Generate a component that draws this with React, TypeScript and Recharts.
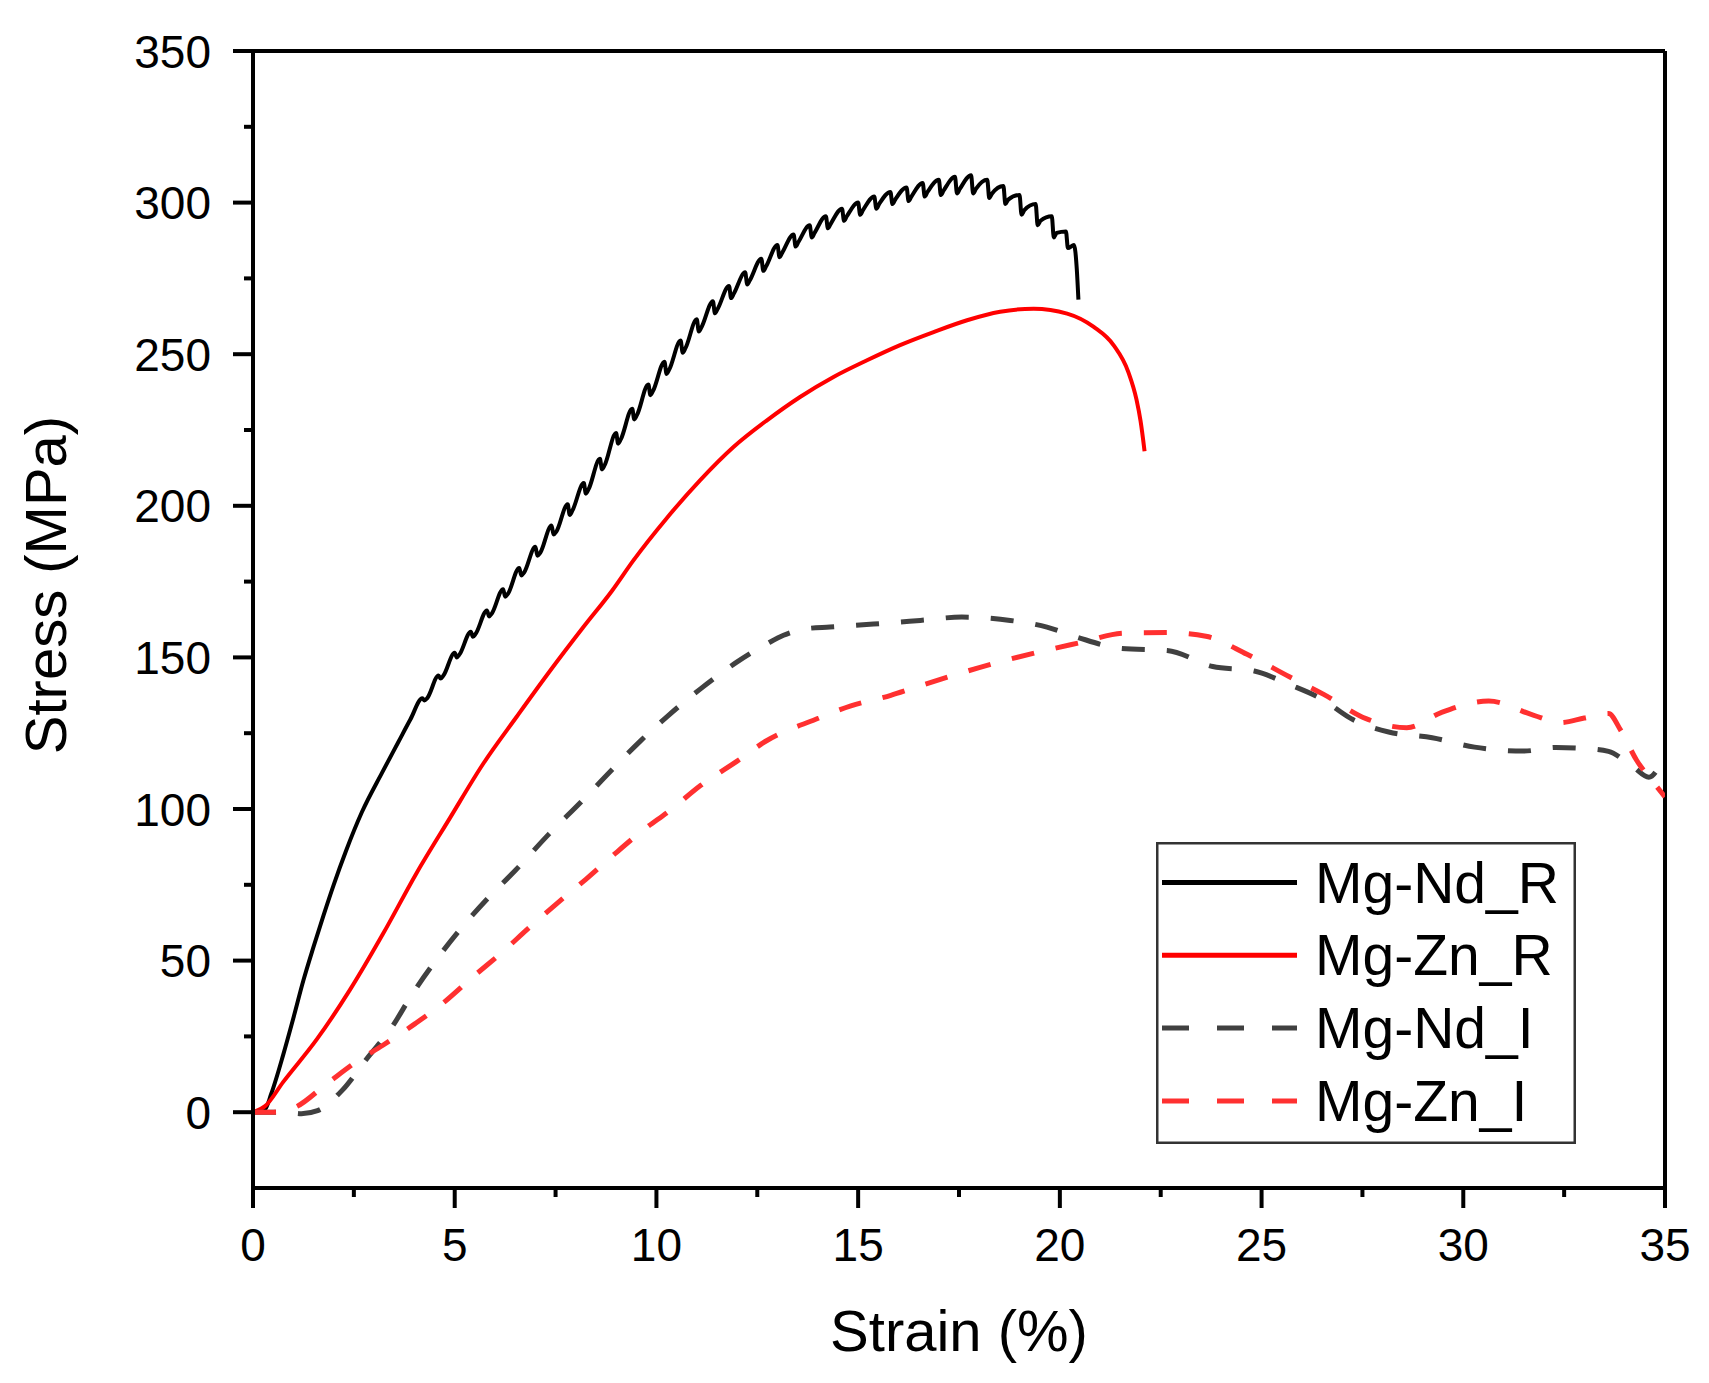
import { Label, Legend, Line, LineChart, ReferenceLine, XAxis, YAxis } from "recharts"

const FONT = "'Liberation Sans', Arial, Helvetica, sans-serif"

// axis ticks (majors get a label, minors only a short tick)
const xTicks = [0, 2.5, 5, 7.5, 10, 12.5, 15, 17.5, 20, 22.5, 25, 27.5, 30, 32.5, 35]
const yTicks = [0, 25, 50, 75, 100, 125, 150, 175, 200, 225, 250, 275, 300, 325, 350]

// [strain %, stress MPa]
const mgNdR: [number, number][] = [
  [0, 0], [0.3, 1], [0.45, 6], [0.75, 19], [1.0, 31], [1.25, 43.5], [1.5, 54.5], [1.75, 65],
  [2.0, 75], [2.3, 86], [2.7, 99], [3.2, 112], [3.6, 122], [3.9, 129.5],
  [4.2, 136.5], [4.25, 135.8], [4.32, 136.6], [4.6, 144], [4.65, 143], [4.72, 144],
  [5.0, 151.5], [5.05, 150], [5.12, 151], [5.4, 158.5], [5.45, 156.8], [5.52, 157.8],
  [5.8, 165.5], [5.85, 163.5], [5.92, 164.5], [6.2, 172.5], [6.25, 170], [6.32, 171],
  [6.6, 179.5], [6.65, 177], [6.72, 178], [7.0, 186.5], [7.05, 183.5], [7.12, 184.5],
  [7.4, 193.5], [7.45, 190.5], [7.52, 191.5], [7.8, 200.5], [7.85, 197], [7.92, 198.5],
  [8.2, 207.5], [8.25, 204], [8.32, 205.5], [8.6, 215.5], [8.65, 212], [8.72, 213.5],
  [9.0, 224], [9.05, 220.5], [9.12, 222], [9.4, 232], [9.45, 228.5], [9.52, 230],
  [9.8, 240], [9.85, 236.5], [9.92, 238], [10.2, 247.5], [10.25, 243.5], [10.32, 245],
  [10.6, 254.5], [10.65, 250.5], [10.72, 252], [11.0, 261.5], [11.05, 257.5], [11.12, 259],
  [11.4, 267.5], [11.45, 263.5], [11.52, 265], [11.8, 272.5], [11.85, 268.5], [11.92, 270],
  [12.2, 277], [12.25, 273], [12.32, 274.5], [12.6, 281.5], [12.65, 277.5], [12.72, 279],
  [13.0, 286], [13.05, 282], [13.12, 283.5], [13.4, 289.5], [13.45, 285.5], [13.52, 287],
  [13.8, 292.5], [13.85, 288.5], [13.92, 290], [14.2, 295.5], [14.25, 291.5], [14.32, 293],
  [14.6, 298], [14.65, 294], [14.72, 295.5], [15.0, 300], [15.05, 296], [15.12, 297.5],
  [15.4, 302], [15.45, 298], [15.52, 299.5], [15.8, 303.5], [15.85, 299.5], [15.92, 301],
  [16.2, 305], [16.25, 300.5], [16.32, 302], [16.6, 306.5], [16.65, 302], [16.72, 303.5],
  [17.0, 307.5], [17.05, 302.5], [17.12, 304], [17.4, 308.5], [17.45, 303], [17.52, 304.5],
  [17.8, 309], [17.85, 303], [17.92, 304.5], [18.2, 307.5], [18.25, 301.5], [18.32, 303],
  [18.6, 305.5], [18.65, 299.5], [18.72, 301], [19.0, 302.5], [19.05, 296], [19.12, 297.5],
  [19.4, 299.5], [19.45, 292.5], [19.52, 294], [19.8, 295.5], [19.85, 288.5], [19.92, 290],
  [20.15, 290.5], [20.2, 285], [20.35, 286], [20.42, 278], [20.46, 268],
]

const mgZnR: [number, number][] = [
  [0, 0], [0.3, 2], [0.75, 10], [1.58, 24], [2.41, 40.5], [3.23, 59], [4.06, 79], [4.88, 97],
  [5.71, 115], [6.54, 130.5], [7.36, 145.5], [8.19, 160], [8.9, 172], [9.43, 182],
  [10.26, 196], [11.08, 208.4], [11.91, 219.4], [12.74, 228.2], [13.56, 235.9],
  [14.39, 242.5], [15.22, 248], [16.04, 253], [16.87, 257.3], [17.7, 261.2], [18.52, 264],
  [19.35, 265], [20.18, 263.4], [20.84, 259], [21.33, 253], [21.7, 244], [21.9, 235],
  [22.0, 228], [22.1, 218],
]

const mgNdI: [number, number][] = [
  [0, 0], [0.8, 0], [1.2, -0.5], [1.6, 0.5], [2.21, 7.2], [2.83, 17.8], [3.44, 28],
  [3.95, 39], [4.53, 50], [5.15, 60.5], [5.81, 70.4], [6.5, 79.7], [7.34, 91.8],
  [8.13, 102.3], [8.88, 112.7], [9.6, 122.4], [10.3, 130.9], [11.1, 139.7], [12.0, 148.5],
  [12.74, 154.5], [13.15, 157.3], [13.73, 159.5], [14.3, 160], [15.38, 161], [16.54, 162.2],
  [17.57, 163.3], [18.77, 162.2], [19.68, 160], [20.42, 156.7], [21.54, 152.9],
  [22.66, 152.3], [23.79, 147], [24.82, 145.5], [25.7, 141], [26.5, 136.2], [27.22, 129.8],
  [28.15, 125.4], [29.23, 123.5], [30.28, 120.4], [31.5, 119.1], [32.3, 120.3], [33.0, 120],
  [33.6, 119], [34.2, 114], [34.6, 110.5], [35, 118],
]

const mgZnI: [number, number][] = [
  [0, 0], [0.5, 0], [1.04, 1.6], [1.83, 9.4], [2.55, 16.5], [3.21, 22], [4.02, 29.2],
  [4.74, 36.3], [5.44, 44.5], [6.18, 52.8], [6.84, 60.8], [7.53, 68.8], [8.25, 76.8],
  [8.95, 85], [9.61, 92.4], [10.38, 100], [11.1, 107.8], [12.0, 115.8], [12.74, 122.6],
  [13.95, 129.6], [14.82, 134], [15.81, 137.5], [16.41, 140.1], [17.34, 144], [18.44, 148.3],
  [19.45, 151.7], [20.55, 155], [21.58, 158], [22.66, 158.2], [23.62, 157], [24.64, 151],
  [25.69, 143.6], [26.54, 137.8], [27.59, 129.8], [28.6, 126.8], [29.45, 131.8],
  [30.63, 135.6], [31.75, 130.9], [32.4, 128.5], [33.0, 130], [33.6, 131.5], [33.9, 126],
  [34.3, 116], [34.7, 109], [35, 104],
]

const series = [
  { name: "Mg-Nd_R", points: mgNdR, color: "#000000", width: 4, dash: undefined, legendDash: undefined, type: "monotone" },
  { name: "Mg-Zn_R", points: mgZnR, color: "#ff0000", width: 4, dash: undefined, legendDash: undefined, type: "monotone" },
  { name: "Mg-Nd_I", points: mgNdI, color: "#404040", width: 5, dash: "23 22", legendDash: "27 28", type: "monotone" },
  { name: "Mg-Zn_I", points: mgZnI, color: "#ff3030", width: 5, dash: "23 22", legendDash: "27 28", type: "monotone" },
] as const

function XTick({ x, y, payload }: any) {
  const major = payload.value % 5 === 0
  return (
    <g>
      <line x1={x} x2={x} y1={y} y2={y + (major ? 20 : 9)} stroke="#000" strokeWidth={4} />
      {major && (
        <text x={x} y={y + 73} textAnchor="middle" fontSize={46} fontFamily={FONT} fill="#000">
          {payload.value}
        </text>
      )}
    </g>
  )
}

function YTick({ x, y, payload }: any) {
  const major = payload.value % 50 === 0
  return (
    <g>
      <line x1={x - (major ? 20 : 9)} x2={x} y1={y} y2={y} stroke="#000" strokeWidth={4} />
      {major && (
        <text x={x - 42} y={y + 16.5} textAnchor="end" fontSize={46} fontFamily={FONT} fill="#000">
          {payload.value}
        </text>
      )}
    </g>
  )
}

function LegendBox() {
  return (
    <svg width={420} height={302}>
      <rect x={1.25} y={1.25} width={417.5} height={299.5} fill="#fff" stroke="#333" strokeWidth={2.5} />
      {series.map((s, i) => {
        const ry = 40.5 + i * 72.8
        return (
          <g key={s.name}>
            <line x1={6} x2={141} y1={ry} y2={ry} stroke={s.color} strokeWidth={5} strokeDasharray={s.legendDash} />
            <text x={159} y={ry + 20} fontSize={57} fontFamily={FONT} fill="#000">
              {s.name}
            </text>
          </g>
        )
      })}
    </svg>
  )
}

export default function App() {
  return (
    <div style={{ position: "absolute", left: 0, top: 0, background: "#fff" }}>
      <LineChart width={1709} height={1383} margin={{ top: 51, right: 44, left: 0, bottom: 0 }}>
        <XAxis
          type="number"
          dataKey="e"
          domain={[0, 35]}
          ticks={xTicks}
          interval={0}
          allowDataOverflow
          height={195}
          tickSize={0}
          tickMargin={0}
          tick={<XTick />}
          axisLine={{ stroke: "#000", strokeWidth: 4 }}
        >
          <Label
            content={({ viewBox }: any) => (
              <text
                x={viewBox.x + viewBox.width / 2}
                y={viewBox.y + 163}
                textAnchor="middle"
                fontSize={58}
                fontFamily={FONT}
                fill="#000"
              >
                Strain (%)
              </text>
            )}
          />
        </XAxis>
        <YAxis
          type="number"
          domain={[-25, 350]}
          ticks={yTicks}
          interval={0}
          allowDataOverflow
          width={253}
          tickSize={0}
          tickMargin={0}
          tick={<YTick />}
          axisLine={{ stroke: "#000", strokeWidth: 4 }}
        >
          <Label
            content={({ viewBox }: any) => {
              const cx = viewBox.x + 66
              const cy = viewBox.y + 534
              return (
                <text
                  x={cx}
                  y={cy}
                  transform={`rotate(-90 ${cx} ${cy})`}
                  textAnchor="middle"
                  fontSize={58}
                  fontFamily={FONT}
                  fill="#000"
                >
                  Stress (MPa)
                </text>
              )
            }}
          />
        </YAxis>
        <ReferenceLine y={350} stroke="#000" strokeWidth={4} />
        <ReferenceLine x={35} stroke="#000" strokeWidth={4} />
        {series.map((s) => (
          <Line
            key={s.name}
            name={s.name}
            data={s.points.map(([e, v]) => ({ e, s: v }))}
            dataKey="s"
            type={s.type}
            stroke={s.color}
            strokeWidth={s.width}
            strokeDasharray={s.dash}
            dot={false}
            activeDot={false}
            isAnimationActive={false}
          />
        ))}
        <Legend
          layout="vertical"
          align="center"
          verticalAlign="middle"
          content={() => <LegendBox />}
          wrapperStyle={{ left: 1156, top: 842, width: 420, height: 302 }}
        />
      </LineChart>
    </div>
  )
}
